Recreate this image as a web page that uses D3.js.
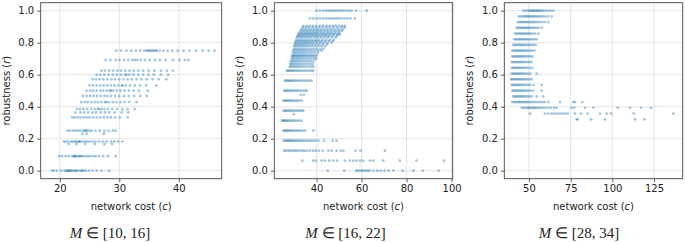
<!DOCTYPE html>
<html><head><meta charset="utf-8">
<script src="https://cdn.jsdelivr.net/npm/d3@7"></script>
<style>
html,body{margin:0;padding:0;background:#fff;}
svg{display:block;}
text{font-family:"DejaVu Sans",sans-serif;}
</style></head>
<body>
<svg id="chart" width="685" height="242"></svg>
<script>
// ---------------- DATA ----------------
const yTicks = [0, 0.2, 0.4, 0.6, 0.8, 1.0];
const xTicks1 = [20, 30, 40];
const xTicks2 = [40, 60, 80, 100];
const xTicks3 = [50, 75, 100, 125];
const subtitles = ["[10, 16]", "[16, 22]", "[28, 34]"];
const xLabel = "network cost";
const yLabel = "robustness";

// Panel 1: M in [10,16]  (robustness levels and network costs at each level)
const levels1 = [0, 0.091, 0.167, 0.182, 0.231, 0.25, 0.333, 0.364, 0.385, 0.429, 0.467, 0.5, 0.533, 0.571, 0.6, 0.625, 0.692, 0.75];
const costs1 = [
  [18.7, 19.0, 19.5, 20.2, 20.8, 21.1, 21.3, 21.4, 21.6, 21.8, 21.9, 22.2, 22.5, 22.7, 22.9, 23.3, 23.6, 23.8, 24.0, 24.4, 24.9, 25.5, 26.2, 27.0, 28.3],
  [19.9, 20.4, 21.0, 21.5, 22.1, 22.4, 22.5, 22.6, 22.9, 23.2, 23.4, 23.6, 23.9, 24.3, 24.7, 25.1, 25.6, 26.0, 26.6, 27.3, 28.1, 29.4],
  [21.5, 22.8, 24.3, 25.9, 27.5, 28.8],
  [20.7, 21.0, 21.4, 21.9, 22.2, 22.5, 22.8, 23.1, 23.3, 23.4, 23.8, 24.2, 24.6, 25.0, 25.5, 26.0, 26.6, 27.2, 27.9, 28.6, 29.2, 29.8, 30.5],
  [23.8, 24.5, 27.4],
  [21.3, 21.7, 22.2, 22.6, 23.0, 23.4, 23.9, 24.2, 24.4, 24.6, 25.0, 25.4, 26.0, 26.7, 27.5, 28.2, 28.9, 29.4],
  [22.1, 22.5, 23.0, 23.5, 24.0, 24.5, 25.0, 25.6, 26.2, 26.8, 27.4, 28.0, 28.6, 29.3, 30.1, 31.4],
  [22.6, 23.5, 24.1, 24.8, 25.5, 26.1, 26.9, 27.6, 28.3, 29.2, 30.4, 31.5],
  [22.9, 23.4, 24.0, 24.6, 25.3, 25.9, 26.4, 26.6, 27.0, 27.5, 28.1, 28.8, 29.6, 30.5, 31.4, 32.6],
  [23.6, 24.2, 24.7, 25.3, 25.9, 26.4, 27.0, 27.6, 27.8, 28.2, 28.9, 29.5, 30.2, 30.9, 31.7, 32.9],
  [23.9, 24.5, 25.1, 25.7, 26.3, 26.9, 27.5, 28.0, 28.6, 29.3, 30.0, 30.8, 31.6, 32.5, 33.5, 34.6],
  [24.5, 25.1, 25.6, 26.2, 26.8, 27.3, 27.9, 28.4, 28.6, 29.0, 29.6, 30.2, 30.9, 31.6, 32.4, 33.3, 34.8],
  [25.0, 25.6, 26.2, 26.8, 27.4, 28.0, 28.6, 29.2, 29.8, 30.4, 30.6, 31.1, 31.8, 32.6, 33.5, 34.5, 36.2],
  [25.5, 26.1, 26.7, 27.3, 28.0, 28.7, 29.3, 30.0, 30.7, 31.4, 32.1, 32.9, 33.7, 34.6, 35.6, 36.6, 37.9],
  [26.2, 26.8, 27.5, 28.2, 28.9, 29.6, 30.3, 31.0, 31.2, 31.7, 32.4, 33.2, 34.0, 34.9, 35.8, 37.0, 38.2],
  [27.0, 27.6, 28.3, 29.0, 29.7, 30.3, 31.0, 31.7, 32.4, 33.2, 34.0, 34.9, 35.9, 37.0, 38.0, 39.0],
  [27.7, 28.5, 29.4, 30.0, 30.8, 31.5, 32.2, 32.6, 33.0, 33.6, 34.3, 35.1, 36.0, 36.8, 37.8, 39.0, 40.1, 41.0, 41.6],
  [29.5, 30.3, 31.2, 32.0, 32.8, 33.5, 34.2, 34.6, 34.8, 35.1, 35.3, 35.6, 35.8, 36.1, 36.3, 36.8, 37.4, 38.1, 38.9, 39.8, 40.8, 41.8, 42.9, 44.0, 45.0, 46.0]
];

// Panel 2: M in [16,22]
const levels2 = [0, 0.0625, 0.125, 0.1875, 0.25, 0.3125, 0.353, 0.375, 0.4375, 0.474, 0.5, 0.5625, 0.625,
  0.65, 0.667, 0.684, 0.7, 0.714, 0.722, 0.737, 0.75, 0.762, 0.778, 0.789, 0.8, 0.81, 0.818, 0.833, 0.842,
  0.85, 0.857, 0.864, 0.875, 0.882, 0.895, 0.905, 0.952, 1.0];
const costs2 = [
  [44.9, 52.3, 57.6, 58.4, 59.3, 60.2, 61.0, 61.9, 62.8, 63.6, 65.3, 67.0, 68.5, 70.2, 72.0, 74.2, 78.2, 83.1, 87.3, 94.2],
  [33.6, 38.5, 39.8, 42.2, 43.7, 45.6, 47.4, 49.2, 52.6, 54.8, 56.3, 57.8, 59.3, 60.7, 63.7, 65.2, 69.6, 77.0, 84.4, 96.6],
  [25.5, 26.3, 27.2, 28.0, 28.9, 29.8, 30.6, 31.5, 32.6, 33.6, 34.5, 35.6, 37.0, 38.4, 39.6, 41.0, 42.6, 45.2, 46.7, 48.9, 50.7, 51.9, 57.3, 59.5, 70.4],
  [25.4, 26.0, 26.6, 27.2, 27.8, 28.4, 29.0, 29.6, 30.3, 31.0, 31.7, 32.4, 33.2, 34.0, 34.8, 35.7, 36.6, 37.5, 38.5, 39.5, 40.8, 43.3, 47.1, 48.9],
  [25.3, 25.8, 26.4, 27.0, 27.6, 28.2, 28.9, 29.6, 30.4, 31.2, 32.0, 32.9, 33.8, 34.9, 38.6],
  [24.6, 25.1, 25.6, 26.1, 26.7, 27.3, 28.0, 28.7, 29.5, 30.3, 31.2, 32.2, 33.3],
  [29.9],
  [25.3, 25.9, 26.5, 27.1, 27.8, 28.5, 29.2, 30.0, 30.8, 31.6, 32.4, 33.3, 34.1],
  [25.3, 25.9, 26.5, 27.1, 27.7, 28.4, 29.1, 29.8, 30.6, 31.4, 32.3, 33.4],
  [33.0, 34.4],
  [25.6, 26.2, 26.8, 27.4, 28.1, 28.8, 29.5, 30.3, 31.1, 31.9, 32.8, 33.8, 34.8, 35.6],
  [25.9, 26.5, 27.1, 27.7, 28.3, 29.0, 29.7, 30.4, 31.2, 32.0, 32.9, 33.8, 34.8, 35.8, 36.8, 37.8],
  [26.7, 27.3, 27.9, 28.5, 29.2, 29.9, 30.6, 31.4, 32.2, 33.0, 33.9, 34.8, 35.8, 36.8, 37.7, 38.5],
  [28.1, 28.8, 29.6, 30.4, 31.3, 32.2, 33.1, 34.1, 35.2, 36.4, 37.6, 38.6],
  [28.3, 29.0, 29.8, 30.7, 31.6, 32.5, 33.5, 34.6, 35.8, 37.0, 38.2],
  [28.6, 29.4, 30.2, 31.1, 32.0, 32.9, 33.9, 35.0, 36.1, 37.3, 38.6],
  [28.9, 29.7, 30.5, 31.4, 32.3, 33.3, 34.3, 35.4, 36.5, 37.7, 38.9, 39.8],
  [29.1, 29.9, 30.8, 31.7, 32.6, 33.6, 34.6, 35.7, 36.9, 38.1, 39.4],
  [29.3, 30.2, 31.1, 32.0, 33.0, 34.0, 35.1, 36.2, 37.4, 38.6, 40.0],
  [29.5, 30.4, 31.3, 32.3, 33.3, 34.3, 35.4, 36.6, 37.8, 39.1, 40.6],
  [29.6, 30.5, 31.5, 32.5, 33.5, 34.6, 35.7, 36.9, 38.1, 39.4, 40.8, 42.2],
  [29.9, 30.8, 31.8, 32.8, 33.9, 35.0, 36.2, 37.4, 38.7, 40.1, 41.6, 43.0],
  [30.1, 31.1, 32.1, 33.2, 34.3, 35.4, 36.6, 37.9, 39.2, 40.7, 42.2, 43.8],
  [30.3, 31.3, 32.4, 33.5, 34.6, 35.8, 37.0, 38.3, 39.7, 41.2, 42.8, 44.6],
  [30.4, 31.5, 32.6, 33.7, 34.9, 36.1, 37.4, 38.7, 40.1, 41.6, 43.2, 44.9, 46.6],
  [30.8, 31.9, 33.0, 34.2, 35.4, 36.6, 37.9, 39.3, 40.7, 42.2, 43.8, 45.5, 47.2],
  [31.0, 32.1, 33.3, 34.5, 35.7, 37.0, 38.3, 39.7, 41.1, 42.6, 44.2, 45.9, 47.6],
  [31.3, 32.5, 33.7, 34.9, 36.2, 37.5, 38.9, 40.3, 41.8, 43.3, 44.9, 46.6, 48.4],
  [31.5, 32.7, 33.9, 35.2, 36.5, 37.9, 39.3, 40.7, 42.2, 43.8, 45.4, 47.1, 48.9],
  [31.9, 33.1, 34.4, 35.7, 37.0, 38.4, 39.8, 41.3, 42.8, 44.3, 45.9, 47.6, 49.3, 50.4],
  [32.2, 33.4, 34.7, 36.0, 37.4, 38.8, 40.2, 41.7, 43.2, 44.8, 46.4, 48.0, 49.7],
  [32.5, 33.8, 35.1, 36.4, 37.8, 39.2, 40.7, 42.2, 43.7, 45.3, 46.9, 48.6, 50.2],
  [33.0, 34.3, 35.6, 37.0, 38.4, 39.9, 41.4, 42.9, 44.5, 46.1, 47.8, 49.5, 51.2],
  [33.3, 34.6, 36.0, 37.4, 38.9, 40.4, 41.9, 43.5, 45.1, 46.7, 48.4, 50.0, 51.6],
  [33.8, 35.2, 36.6, 38.1, 39.6, 41.1, 42.7, 44.3, 45.9, 47.5, 49.2, 50.9, 52.4],
  [34.1, 35.5, 36.9, 38.4, 39.9, 41.4, 42.9, 44.4, 45.8, 47.2, 48.6, 50.0, 51.3, 52.6],
  [37.0, 38.5, 40.0, 41.4, 42.8, 44.1, 45.3, 46.5, 47.6, 48.7, 49.8, 51.0, 52.3, 53.6, 55.0, 57.0],
  [40.0, 41.5, 42.9, 44.2, 45.3, 46.3, 47.2, 48.1, 49.0, 50.0, 51.0, 52.1, 53.3, 54.5, 55.6, 57.5, 62.2]
];

// Panel 3: M in [28,34]
const levels3 = [0.321, 0.357, 0.393, 0.429, 0.464, 0.5, 0.536, 0.571, 0.607, 0.643, 0.679, 0.714, 0.75, 0.786, 0.821, 0.857, 0.893, 0.929, 0.964, 1.0];
const costs3 = [
  [78.6, 79.2, 87.2, 95.6, 113.6, 119.2],
  [50.6, 59.6, 61.6, 63.6, 65.2, 66.8, 68.4, 70.0, 71.6, 73.2, 77.6, 81.2, 85.2, 92.6, 96.6, 99.2, 112.8, 136.6],
  [45.6, 46.8, 48.0, 49.0, 49.9, 50.8, 51.7, 52.6, 53.5, 54.5, 55.6, 56.8, 58.2, 59.8, 61.5, 63.2, 65.0, 66.6, 75.6, 77.2, 83.6, 88.6, 103.2, 110.6, 117.2, 123.2],
  [40.0, 41.1, 42.1, 43.0, 43.9, 44.8, 45.7, 46.6, 47.5, 48.4, 49.3, 50.3, 51.4, 52.6, 53.8, 55.1, 56.5, 57.9, 59.4, 61.6, 68.6, 76.6, 77.6, 82.0],
  [40.6, 41.5, 42.4, 43.3, 44.2, 45.1, 46.0, 47.0, 48.0, 49.1, 50.3, 51.6, 54.6, 58.6],
  [40.0, 40.9, 41.8, 42.7, 43.6, 44.5, 45.4, 46.4, 47.4, 48.5, 49.7, 51.0, 52.6, 57.6],
  [39.6, 40.5, 41.4, 42.3, 43.2, 44.1, 45.0, 46.0, 47.0, 48.1, 49.3, 50.6, 52.6, 57.6],
  [39.2, 40.1, 41.0, 41.9, 42.8, 43.7, 44.6, 45.6, 46.6, 47.7, 48.9, 50.2, 51.6],
  [39.6, 40.6, 41.5, 42.4, 43.3, 44.2, 45.1, 46.1, 47.1, 48.2, 49.4, 50.8, 54.6],
  [39.6, 40.5, 41.4, 42.3, 43.2, 44.1, 45.0, 46.0, 47.0, 48.0, 49.1, 50.4, 52.0],
  [39.6, 40.5, 41.4, 42.3, 43.2, 44.1, 45.0, 45.9, 46.9, 47.9, 49.0, 50.2, 51.6],
  [40.0, 40.9, 41.8, 42.7, 43.6, 44.5, 45.4, 46.3, 47.3, 48.3, 49.4, 50.6, 52.0],
  [40.0, 41.0, 41.9, 42.8, 43.7, 44.6, 45.5, 46.4, 47.4, 48.4, 49.5, 50.7, 51.9, 53.2],
  [40.6, 41.6, 42.5, 43.4, 44.3, 45.2, 46.1, 47.0, 48.0, 49.0, 50.1, 51.3, 52.6, 54.0],
  [41.2, 42.2, 43.1, 44.0, 44.9, 45.8, 46.7, 47.6, 48.6, 49.6, 50.7, 51.9, 53.2, 54.6],
  [41.6, 42.6, 43.5, 44.4, 45.3, 46.2, 47.1, 48.0, 49.0, 50.0, 51.1, 52.3, 53.7, 55.6],
  [42.6, 43.6, 44.5, 45.4, 46.3, 47.2, 48.1, 49.0, 49.9, 50.9, 51.9, 53.0, 54.2, 55.6, 57.6],
  [43.2, 44.3, 45.3, 46.2, 47.1, 48.0, 48.9, 49.8, 50.8, 51.8, 52.8, 53.9, 55.1, 56.4, 58.0, 59.6, 61.6],
  [44.0, 45.2, 46.3, 47.3, 48.2, 49.1, 50.0, 50.9, 51.8, 52.7, 53.7, 54.7, 55.8, 57.0, 58.3, 59.8, 61.5, 63.6],
  [46.5, 48.0, 49.2, 50.2, 51.0, 51.8, 52.5, 53.2, 54.0, 54.8, 55.6, 56.5, 57.5, 58.6, 60.0, 61.5, 63.0, 64.6]
];

// ---------------- LAYOUT ----------------
const panels = [
  {levels: levels1, costs: costs1, ticks: xTicks1, xdom: [16.8, 47.2], x0: 40.7, x1: 221.7, sub: subtitles[0], subX: 110},
  {levels: levels2, costs: costs2, ticks: xTicks2, xdom: [21.2, 100.5], x0: 274.3, x1: 452.7, sub: subtitles[1], subX: 345.5},
  {levels: levels3, costs: costs3, ticks: xTicks3, xdom: [35.2, 142.2], x0: 504.3, x1: 682.7, sub: subtitles[2], subX: 579}
];
const yTop = 2.7, yBot = 178.7;
const svg = d3.select("#chart");
const blue = "#1f77b4";

panels.forEach(p => {
  const x = d3.scaleLinear().domain(p.xdom).range([p.x0, p.x1]);
  const y = d3.scaleLinear().domain([-0.05, 1.05]).range([yBot, yTop]);
  const g = svg.append("g");

  // grid
  g.append("g").selectAll("line").data(p.ticks).join("line")
    .attr("x1", d => x(d)).attr("x2", d => x(d)).attr("y1", yTop).attr("y2", yBot)
    .attr("stroke", "#dcdcdc").attr("stroke-width", 0.8);
  g.append("g").selectAll("line").data(yTicks).join("line")
    .attr("x1", p.x0).attr("x2", p.x1).attr("y1", d => y(d)).attr("y2", d => y(d))
    .attr("stroke", "#dcdcdc").attr("stroke-width", 0.8);

  // points
  const pts = [];
  p.levels.forEach((lv, i) => p.costs[i].forEach(c => pts.push([c, lv])));
  g.append("g").selectAll("circle").data(pts).join("circle")
    .attr("cx", d => x(d[0])).attr("cy", d => y(d[1])).attr("r", 1.4)
    .attr("fill", blue).attr("fill-opacity", 0.42);

  // axes
  const xa = g.append("g").attr("transform", `translate(0,${yBot})`)
    .call(d3.axisBottom(x).tickValues(p.ticks).tickSize(3.5).tickPadding(3).tickFormat(d3.format("d")));
  const ya = g.append("g").attr("transform", `translate(${p.x0},0)`)
    .call(d3.axisLeft(y).tickValues(yTicks).tickSize(3.5).tickPadding(3).tickFormat(d3.format(".1f")));
  [xa, ya].forEach(a => {
    a.select(".domain").remove();
    a.selectAll("line").attr("stroke", "#333").attr("stroke-width", 0.8);
    a.selectAll("text").attr("fill", "#222").style("font-size", "10px").style("font-family", "DejaVu Sans");
  });

  // frame
  g.append("rect").attr("x", p.x0).attr("y", yTop).attr("width", p.x1 - p.x0).attr("height", yBot - yTop)
    .attr("fill", "none").attr("stroke", "#444").attr("stroke-width", 0.9);

  // x label
  const xl = g.append("text").attr("x", (p.x0 + p.x1) / 2).attr("y", 209.5).attr("text-anchor", "middle")
    .style("font-size", "10px").attr("fill", "#222");
  xl.append("tspan").text(xLabel + " (");
  xl.append("tspan").style("font-style", "italic").text("c");
  xl.append("tspan").text(")");

  // y label
  const yl = g.append("text").attr("transform", `translate(${p.x0 - 31},${(yTop + yBot) / 2}) rotate(-90)`)
    .attr("text-anchor", "middle").style("font-size", "10px").attr("fill", "#222");
  yl.append("tspan").text(yLabel + " (");
  yl.append("tspan").style("font-style", "italic").text("r");
  yl.append("tspan").text(")");

  // subtitle
  const st = g.append("text").attr("x", p.subX).attr("y", 237.5).attr("text-anchor", "middle")
    .style("font-family", "Liberation Serif").style("font-size", "15px").attr("fill", "#222");
  st.append("tspan").style("font-style", "italic").text("M");
  st.append("tspan").text(" \u2208 " + p.sub);
});
</script>
</body></html>
